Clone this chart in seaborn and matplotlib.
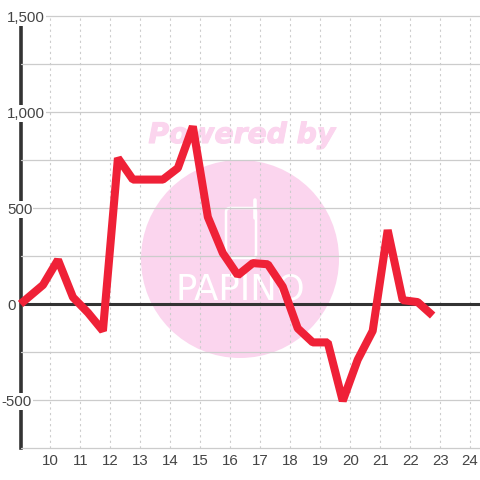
import matplotlib
matplotlib.use("Agg")
import matplotlib.pyplot as plt
import matplotlib.patheffects as pe
from matplotlib.patches import Circle, FancyBboxPatch
from matplotlib.lines import Line2D
import seaborn as sns

hours = [9.0, 9.75, 10.25, 10.75, 11.25, 11.75, 12.25, 12.75, 13.25, 13.75, 14.25, 14.75,
         15.25, 15.75, 16.25, 16.75, 17.25, 17.75, 18.25, 18.75, 19.25, 19.75, 20.25,
         20.75, 21.25, 21.75, 22.25, 22.75]
values = [0, 99, 230, 35, -45, -140, 760, 648, 648, 648, 708, 925,
          453, 265, 150, 213, 207, 90, -127, -200, -200, -505, -290,
          -140, 385, 20, 10, -60]
x_ticks = list(range(10, 25))
y_ticks = [-500, 0, 500, 1000, 1500]
y_labels = ["-500", "0", "500", "1,000", "1,500"]
y_minor = [-750, -250, 250, 750, 1250]

sns.set_style("white")
plt.rcParams["font.family"] = ["Liberation Sans", "DejaVu Sans"]

fig = plt.figure(figsize=(4.8, 4.8), dpi=100)
ax = fig.add_axes([20.5 / 480, 32 / 480, 459.5 / 480, 432 / 480])
ax.patch.set_visible(False)

# watermark sits behind the axes
pink = "#fbd5ee"
fig.add_artist(Circle((240, 221), 99, transform=None, color=pink, lw=0, zorder=-3))
powered = fig.text(242 / 480, 345 / 480, "Powered by", color=pink, fontsize=20.3, family="DejaVu Sans",
                   weight="bold", style="italic", ha="center", va="center", zorder=-2)
powered.set_path_effects([pe.withStroke(linewidth=0.8, foreground=pink)])
fig.add_artist(FancyBboxPatch((228, 224), 26, 46, boxstyle="round,pad=2,rounding_size=4", transform=None,
                              fc="none", ec="white", lw=1.8, zorder=-2))
fig.add_artist(Line2D([255, 255], [262, 280], transform=None, color="white", lw=2.6, zorder=-2))
logo = fig.text(240 / 480, 191 / 480, "PAPINO", color="white", fontsize=25.5, family="DejaVu Sans",
                ha="center", va="center", zorder=-2)

ax.axhline(0, color="#333333", lw=2.2, zorder=5.5)
sns.lineplot(x=hours, y=values, ax=ax, color="#ef2137", lw=5.8, zorder=6, clip_on=False,
             solid_joinstyle="bevel", solid_capstyle="butt", errorbar=None, estimator=None)

ax.set_xlim(9, 24.33)
ax.set_ylim(-750, 1500)
ax.set_xticks(x_ticks)
ax.set_yticks(y_ticks)
ax.set_yticklabels(y_labels)
ax.set_yticks(y_minor, minor=True)
ax.grid(axis="y", which="both", color="#cccccc", lw=0.9, ls="-", clip_on=False)
ax.grid(axis="x", which="major", color="#cccccc", lw=0.8, ls=(0, (2, 3)))
ax.yaxis.set_zorder(5)
ax.xaxis.set_zorder(1)
ax.tick_params(axis="both", which="both", length=0, labelcolor="#444444", labelsize=10.8)
ax.tick_params(axis="x", pad=4.5)

for tick, label in zip(ax.yaxis.get_major_ticks(), y_labels):
    tick.set_pad(13.5 if label == "-500" else 9.7)
    tick.label1.set_ha("left")
    tick.label1.set_bbox(dict(fc="white", ec="none", pad=0.8))

for side in ("top", "right", "bottom"):
    ax.spines[side].set_visible(False)
ax.spines["left"].set_color("#333333")
ax.spines["left"].set_linewidth(2.6)

fig.savefig("out.png", dpi=100)
